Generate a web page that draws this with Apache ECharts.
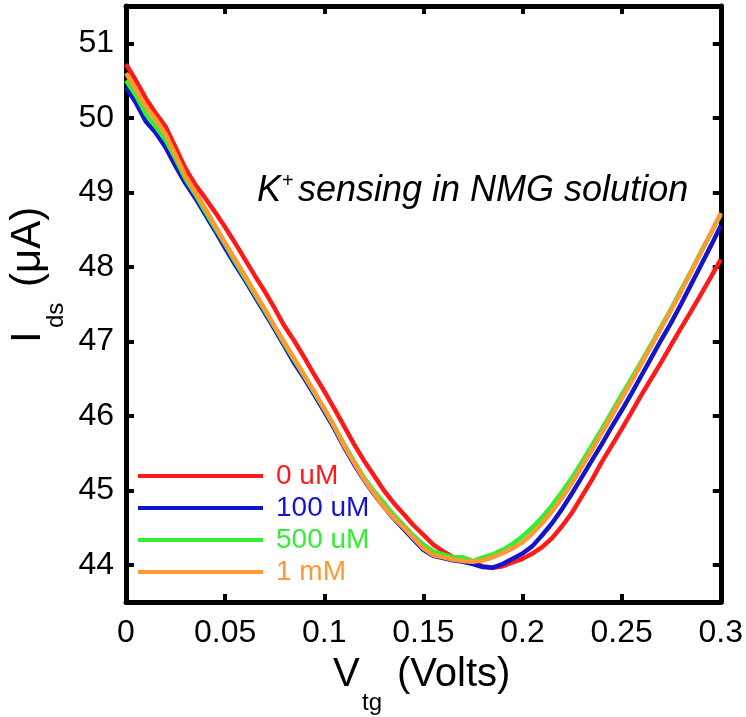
<!DOCTYPE html>
<html>
<head>
<meta charset="utf-8">
<title>K+ sensing in NMG solution</title>
<script src="https://cdn.jsdelivr.net/npm/echarts@6/dist/echarts.min.js"></script>
<style>
  html, body { margin: 0; padding: 0; background: #ffffff; }
  #chart { width: 746px; height: 717px; }
</style>
</head>
<body>
<div id="chart"></div>
<script>
// Top-gate voltage sweep (V)
const vtg = [
  0, 0.005, 0.01, 0.015, 0.02, 0.025, 0.03, 0.035, 0.04, 0.045,
  0.05, 0.055, 0.06, 0.065, 0.07, 0.075, 0.08, 0.085, 0.09, 0.095,
  0.1, 0.105, 0.11, 0.115, 0.12, 0.125, 0.13, 0.135, 0.14, 0.145,
  0.15, 0.155, 0.16, 0.165, 0.17, 0.175, 0.18, 0.185, 0.19, 0.195,
  0.2, 0.205, 0.21, 0.215, 0.22, 0.225, 0.23, 0.235, 0.24, 0.245,
  0.25, 0.255, 0.26, 0.265, 0.27, 0.275, 0.28, 0.285, 0.29, 0.295,
  0.3
];

// Drain-source current (uA) for each K+ concentration
const ids0uM = [
  50.72, 50.5, 50.26, 50.06, 49.88, 49.6, 49.32, 49.1, 48.92, 48.73,
  48.53, 48.32, 48.1, 47.88, 47.67, 47.44, 47.2, 47.0, 46.78, 46.55,
  46.33, 46.1, 45.86, 45.62, 45.4, 45.2, 45.0, 44.83, 44.68, 44.53,
  44.4, 44.27, 44.18, 44.1, 44.06, 44.02, 43.98, 43.96, 43.98, 44.03,
  44.08, 44.15, 44.24, 44.36, 44.52, 44.7, 44.92, 45.14, 45.38, 45.6,
  45.82, 46.05, 46.28, 46.5, 46.72, 46.95, 47.18, 47.4, 47.63, 47.86,
  48.1
];
const ids100uM = [
  50.41, 50.2, 49.95, 49.8, 49.6, 49.35, 49.12, 48.92, 48.7, 48.48,
  48.25, 48.03, 47.82, 47.6, 47.38, 47.16, 46.93, 46.7, 46.5, 46.28,
  46.06, 45.83, 45.58, 45.35, 45.14, 44.95, 44.78, 44.62, 44.48, 44.34,
  44.2, 44.12, 44.09, 44.06, 44.04, 44.01, 43.97, 43.96, 44.01, 44.08,
  44.15, 44.25, 44.4, 44.56, 44.75, 44.96, 45.18, 45.4, 45.62, 45.85,
  46.07, 46.3, 46.54, 46.78, 47.02, 47.25, 47.5, 47.76, 48.02, 48.28,
  48.55
];
const ids500uM = [
  50.5, 50.3, 50.05, 49.88, 49.7, 49.45, 49.18, 48.97, 48.74, 48.52,
  48.3, 48.07, 47.85, 47.63, 47.41, 47.19, 46.96, 46.74, 46.53, 46.31,
  46.09, 45.86, 45.62, 45.39, 45.17, 44.99, 44.83, 44.67, 44.53, 44.39,
  44.27, 44.18, 44.14, 44.1, 44.1, 44.05, 44.1, 44.14, 44.2, 44.28,
  44.38, 44.5, 44.64, 44.8, 44.98, 45.17, 45.38, 45.6, 45.82, 46.05,
  46.28, 46.5, 46.73, 46.96, 47.2, 47.44, 47.69, 47.94, 48.2, 48.45,
  48.7
];
const ids1mM = [
  50.6, 50.38, 50.15, 49.98, 49.78, 49.5, 49.22, 49.0, 48.78, 48.55,
  48.32, 48.1, 47.88, 47.65, 47.43, 47.2, 46.98, 46.76, 46.54, 46.32,
  46.1, 45.86, 45.6, 45.37, 45.15, 44.96, 44.78, 44.63, 44.5, 44.36,
  44.22, 44.13, 44.1, 44.07, 44.05, 44.04, 44.06, 44.1, 44.16, 44.22,
  44.3, 44.42, 44.56, 44.72, 44.9, 45.1, 45.32, 45.54, 45.77, 46.0,
  46.23, 46.46, 46.7, 46.94, 47.18, 47.42, 47.67, 47.93, 48.19, 48.45,
  48.72
];

const seriesNames = ['0 uM', '100 uM', '500 uM', '1 mM'];
const seriesValues = [ids0uM, ids100uM, ids500uM, ids1mM];
const seriesColors = ['#ff1a1a', '#1414cc', '#33ee33', '#ff9933'];

const yTickValues = [44, 45, 46, 47, 48, 49, 50, 51];

const FONT = '"Liberation Sans", Arial, sans-serif';

function pairs(xs, ys) {
  return xs.map((x, i) => [x, ys[i]]);
}

const frameLine = { show: true, onZero: false, lineStyle: { color: '#000', width: 5 } };
const innerTick = { show: true, inside: true, length: 8, lineStyle: { color: '#000', width: 4 } };

const chart = echarts.init(document.getElementById('chart'), null, { renderer: 'canvas' });

const option = {
  animation: false,
  backgroundColor: '#ffffff',
  color: seriesColors,
  grid: { left: 126, top: 6, right: 23, bottom: 115, containLabel: false },
  xAxis: [
    {
      type: 'value', position: 'bottom', min: 0, max: 0.3, interval: 0.05,
      axisLine: frameLine, axisTick: innerTick,
      axisLabel: { show: true, margin: 15, color: '#000', fontSize: 32, fontFamily: FONT },
      splitLine: { show: false }
    },
    {
      type: 'value', position: 'top', min: 0, max: 0.3, interval: 0.05,
      axisLine: frameLine, axisTick: innerTick,
      axisLabel: { show: false }, splitLine: { show: false }
    }
  ],
  yAxis: [
    {
      type: 'value', position: 'left', min: 43.5, max: 51.5,
      axisLine: frameLine,
      axisTick: Object.assign({ customValues: yTickValues }, innerTick),
      axisLabel: { show: true, customValues: yTickValues, margin: 12, color: '#000', fontSize: 32, fontFamily: FONT },
      splitLine: { show: false }
    },
    {
      type: 'value', position: 'right', min: 43.5, max: 51.5,
      axisLine: frameLine,
      axisTick: Object.assign({ customValues: yTickValues }, innerTick),
      axisLabel: { show: false }, splitLine: { show: false }
    }
  ],
  legend: {
    orient: 'vertical', left: 138, top: 462, padding: 0, itemGap: 4,
    itemWidth: 125, itemHeight: 4, icon: 'rect',
    textStyle: { fontSize: 28, fontFamily: FONT, padding: [0, 0, 0, 8] },
    data: seriesNames.map((n, i) => ({ name: n, textStyle: { color: seriesColors[i] } }))
  },
  series: seriesNames.map((n, i) => ({
    name: n, type: 'line', xAxisIndex: 0, yAxisIndex: 0,
    data: pairs(vtg, seriesValues[i]),
    symbol: 'none', smooth: false,
    lineStyle: { width: 4.5, color: seriesColors[i] },
    itemStyle: { color: seriesColors[i] },
    z: 2 + i
  })),
  graphic: [
    // in-plot annotation
    { type: 'text', x: 257, y: 191, style: { text: 'K', font: 'italic 36px ' + FONT, fill: '#000', verticalAlign: 'middle', align: 'left' } },
    { type: 'text', x: 282, y: 181, style: { text: '+', font: '20px ' + FONT, fill: '#000', verticalAlign: 'middle', align: 'left' } },
    { type: 'text', x: 298, y: 191, style: { text: 'sensing in NMG solution', font: 'italic 36px ' + FONT, fill: '#000', verticalAlign: 'middle', align: 'left' } },
    // x-axis title
    { type: 'text', x: 333, y: 675, style: { text: 'V', font: '40px ' + FONT, fill: '#000', verticalAlign: 'middle', align: 'left' } },
    { type: 'text', x: 362, y: 703, style: { text: 'tg', font: '24px ' + FONT, fill: '#000', verticalAlign: 'middle', align: 'left' } },
    { type: 'text', x: 397, y: 675, style: { text: '(Volts)', font: '40px ' + FONT, fill: '#000', verticalAlign: 'middle', align: 'left' } },
    // y-axis title, reading bottom to top
    {
      type: 'group', x: 28, y: 340, rotation: Math.PI / 2,
      children: [
        { type: 'text', x: -3, y: 0, style: { text: 'I', font: '42px ' + FONT, fill: '#000', verticalAlign: 'middle', align: 'left' } },
        { type: 'text', x: 12, y: 28, style: { text: 'ds', font: '24px ' + FONT, fill: '#000', verticalAlign: 'middle', align: 'left' } },
        { type: 'text', x: 53, y: 0, style: { text: '(\u03bcA)', font: '42px ' + FONT, fill: '#000', verticalAlign: 'middle', align: 'left' } }
      ]
    }
  ]
};

chart.setOption(option);
</script>
</body>
</html>
